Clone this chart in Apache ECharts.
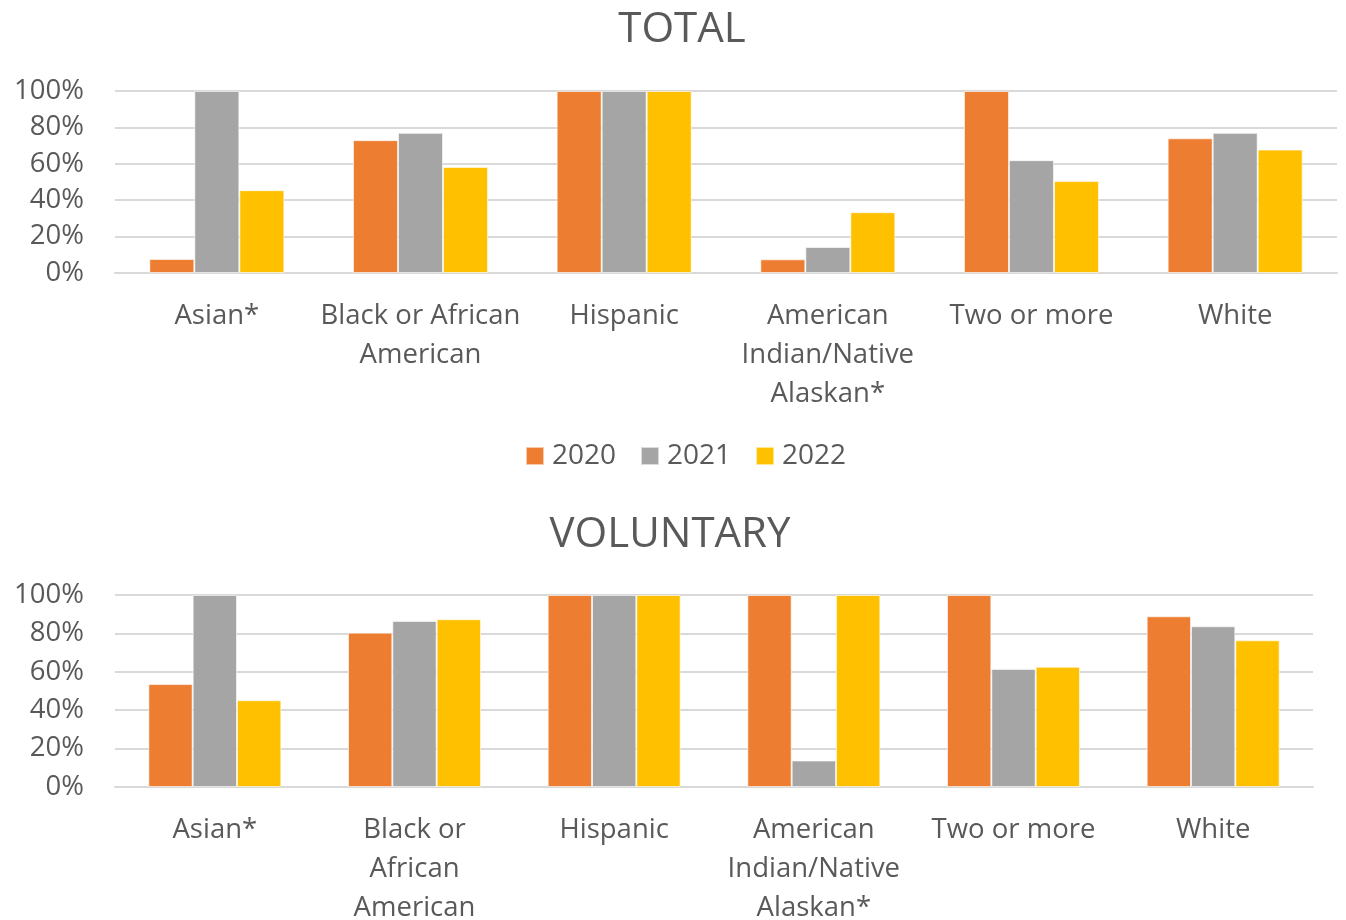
<!DOCTYPE html>
<html>
<head>
<meta charset="utf-8">
<script src="https://cdn.jsdelivr.net/npm/echarts@6/dist/echarts.min.js"></script>
<style>
  html, body { margin: 0; padding: 0; background: #fff; }
  #chart { width: 1346px; height: 920px; }
</style>
</head>
<body>
<div id="chart"></div>
<script>
// Racial/ethnic groups shown on both panels
const categories = ['Asian*', 'Black or African American', 'Hispanic', 'American Indian/Native Alaskan*', 'Two or more', 'White'];
const years = ['2020', '2021', '2022'];

// TOTAL panel, share per group and year (%)
const total2020 = [7.7, 73, 100, 7.5, 100, 74];
const total2021 = [100, 77, 100, 14.3, 62, 77];
const total2022 = [45.5, 58.3, 100, 33.4, 50.6, 67.8];

// VOLUNTARY panel, share per group and year (%)
const vol2020 = [53.6, 80.4, 100, 100, 100, 88.9];
const vol2021 = [100, 86.5, 100, 13.8, 61.5, 83.7];
const vol2022 = [45.2, 87.4, 100, 100, 62.6, 76.4];

const yTicks = [0, 20, 40, 60, 80, 100];

// Line breaks used for the long category names in each panel
const wrapTotal = {
  'Black or African American': 'Black or African\nAmerican',
  'American Indian/Native Alaskan*': 'American\nIndian/Native\nAlaskan*'
};
const wrapVoluntary = {
  'Black or African American': 'Black or\nAfrican\nAmerican',
  'American Indian/Native Alaskan*': 'American\nIndian/Native\nAlaskan*'
};

const colors = ['#ED7D31', '#A5A5A5', '#FFC000'];
const textColor = '#595959';
const gridColor = '#D9D9D9';
const fontFamily = '"Open Sans", "Noto Sans", sans-serif';

const chart = echarts.init(document.getElementById('chart'), null, { renderer: 'canvas' });

function xAxisFor(gridIndex, wrapMap) {
  return {
    type: 'category',
    gridIndex: gridIndex,
    data: categories,
    axisTick: { show: false },
    axisLine: { show: true, lineStyle: { color: gridColor, width: 2 } },
    axisLabel: {
      color: textColor,
      fontFamily: fontFamily,
      fontSize: 27.5,
      lineHeight: 39,
      margin: 24,
      interval: 0,
      formatter: v => wrapMap[v] || v
    }
  };
}

function yAxisFor(gridIndex) {
  return {
    type: 'value',
    gridIndex: gridIndex,
    min: yTicks[0],
    max: yTicks[yTicks.length - 1],
    interval: yTicks[1] - yTicks[0],
    axisLine: { show: false },
    axisTick: { show: false },
    splitLine: { lineStyle: { color: gridColor, width: 2 } },
    axisLabel: {
      color: textColor,
      fontFamily: fontFamily,
      fontSize: 27.5,
      margin: 31,
      formatter: v => v + '%'
    }
  };
}

function barSeries(name, data, idx, axisIdx, catGap) {
  return {
    name: name,
    type: 'bar',
    xAxisIndex: axisIdx,
    yAxisIndex: axisIdx,
    data: data,
    barGap: '0%',
    barCategoryGap: catGap,
    itemStyle: { color: colors[idx], borderColor: 'rgba(255,255,255,0.6)', borderWidth: 1 },
    emphasis: { disabled: true }
  };
}

const titleStyle = { color: textColor, fontFamily: fontFamily, fontSize: 42, fontWeight: 'normal' };

const option = {
  animation: false,
  backgroundColor: '#fff',
  color: colors,
  title: [
    { text: 'TOTAL', left: 677, top: 4, textAlign: 'center', textStyle: titleStyle },
    { text: 'VOLUNTARY', left: 665, top: 509, textAlign: 'center', textStyle: titleStyle }
  ],
  legend: {
    data: years,
    left: 520,
    top: 437,
    itemWidth: 18,
    itemHeight: 18,
    itemGap: 24,
    icon: 'rect',
    textStyle: { color: textColor, fontFamily: fontFamily, fontSize: 28, padding: [0, 0, 0, 3] }
  },
  grid: [
    { left: 115, top: 91, width: 1222, height: 182, outerBoundsMode: 'none' },
    { left: 115, top: 595, width: 1198, height: 192, outerBoundsMode: 'none' }
  ],
  xAxis: [xAxisFor(0, wrapTotal), xAxisFor(1, wrapVoluntary)],
  yAxis: [yAxisFor(0), yAxisFor(1)],
  series: [
    barSeries('2020', total2020, 0, 0, '33.7%'),
    barSeries('2021', total2021, 1, 0, '33.7%'),
    barSeries('2022', total2022, 2, 0, '33.7%'),
    barSeries('2020', vol2020, 0, 1, '33.4%'),
    barSeries('2021', vol2021, 1, 1, '33.4%'),
    barSeries('2022', vol2022, 2, 1, '33.4%')
  ]
};

chart.setOption(option);
</script>
</body>
</html>
